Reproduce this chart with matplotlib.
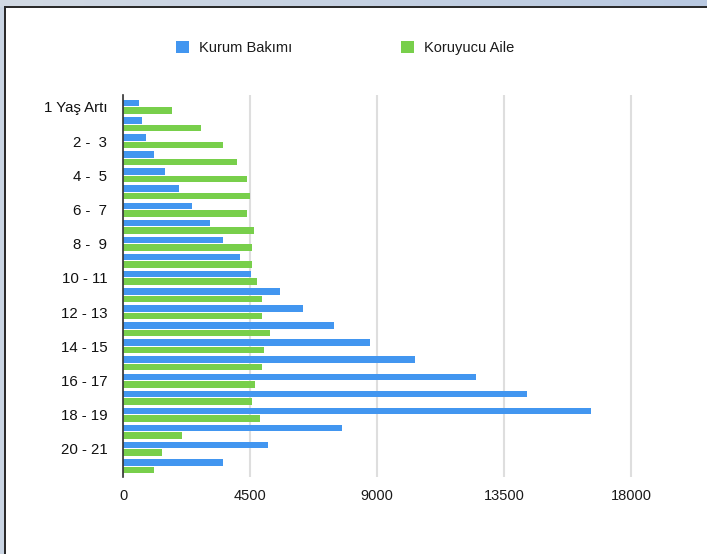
import matplotlib
matplotlib.use("Agg")
import matplotlib.pyplot as plt
import numpy as np
from matplotlib.patches import Rectangle
from matplotlib.colors import LinearSegmentedColormap

plt.rcParams['font.family'] = ['Liberation Sans', 'DejaVu Sans']

categories = ["1 Yaş Artı", "1 -  2", "2 -  3", "3 -  4", "4 -  5", "5 -  6",
              "6 -  7", "7 -  8", "8 -  9", "9 - 10", "10 - 11", "11 - 12",
              "12 - 13", "13 - 14", "14 - 15", "15 - 16", "16 - 17", "17 - 18",
              "18 - 19", "19 - 20", "20 - 21", "21 - 22"]
kurum_bakimi = [566, 650, 805, 1075, 1490, 1985, 2445, 3060, 3520, 4125, 4525,
                5540, 6355, 7470, 8755, 10350, 12515, 14320, 16570, 7740, 5140, 3520]
koruyucu_aile = [1735, 2740, 3520, 4015, 4370, 4500, 4370, 4620, 4560, 4560, 4725,
                 4915, 4915, 5210, 4975, 4905, 4680, 4560, 4855, 2090, 1380, 1075]
x_ticks = [0, 4500, 9000, 13500, 18000]
series_names = ["Kurum Bakımı", "Koruyucu Aile"]

W, H = 707, 554
fig = plt.figure(figsize=(W / 100, H / 100), dpi=100)
fig.patch.set_facecolor('white')

# frame decoration
grad_ax = fig.add_axes([0, 1 - 7 / H, 1, 7 / H])
grad = np.linspace(0, 1, 256).reshape(1, -1)
cm = LinearSegmentedColormap.from_list('g', ['#d2dae4', '#b9c9e1'])
grad_ax.imshow(grad, aspect='auto', cmap=cm)
grad_ax.axis('off')
fig.add_artist(Rectangle((0, 0), 4 / W, 1, transform=fig.transFigure,
                         facecolor='#cad5e3', edgecolor='none', zorder=0))
fig.add_artist(Rectangle((4 / W, 0), 2 / W, 1 - 6 / H, transform=fig.transFigure,
                         facecolor='#2b2b2b', edgecolor='none'))
fig.add_artist(Rectangle((4 / W, 1 - 8 / H), 1, 2 / H, transform=fig.transFigure,
                         facecolor='#2b2b2b', edgecolor='none'))

x0, x1 = 123.3, 642.3
y0, y1 = 95, 477
ax = fig.add_axes([x0 / W, (H - y1) / H, (x1 - x0) / W, (y1 - y0) / H])

y = np.arange(len(categories))
blue = '#4296f0'
green = '#78cf4b'
ax.barh(y - 0.22, kurum_bakimi, height=0.38, color=blue, label=series_names[0], zorder=3)
ax.barh(y + 0.22, koruyucu_aile, height=0.38, color=green, label=series_names[1], zorder=3)

ax.set_xlim(0, 18400)
ax.set_ylim(len(categories) - 0.36, -0.7)
ax.set_xticks(x_ticks)
ax.set_xticklabels([str(v) for v in x_ticks])
ax.set_yticks(y)
ax.set_yticklabels([c if i % 2 == 0 else '' for i, c in enumerate(categories)])
ax.grid(axis='x', color='#dedede', linewidth=1.5, zorder=0)
ax.set_axisbelow(True)
for s in ['top', 'right', 'bottom']:
    ax.spines[s].set_visible(False)
ax.spines['left'].set_color('#333333')
ax.spines['left'].set_linewidth(1.2)
ax.spines['left'].set_zorder(4)
ax.tick_params(axis='x', length=0, pad=9, labelsize=10.5, labelcolor='#1a1a1a')
ax.tick_params(axis='y', length=0, pad=11.5, labelsize=10.8, labelcolor='#111111')

fig.legend(loc='center', bbox_to_anchor=(345 / W, (H - 48) / H), ncol=2,
           frameon=False, fontsize=10.5, handlelength=0.9, handleheight=0.9,
           handletextpad=0.65, columnspacing=7.5, labelcolor='#1a1a1a')

fig.savefig('out.png', dpi=100)
